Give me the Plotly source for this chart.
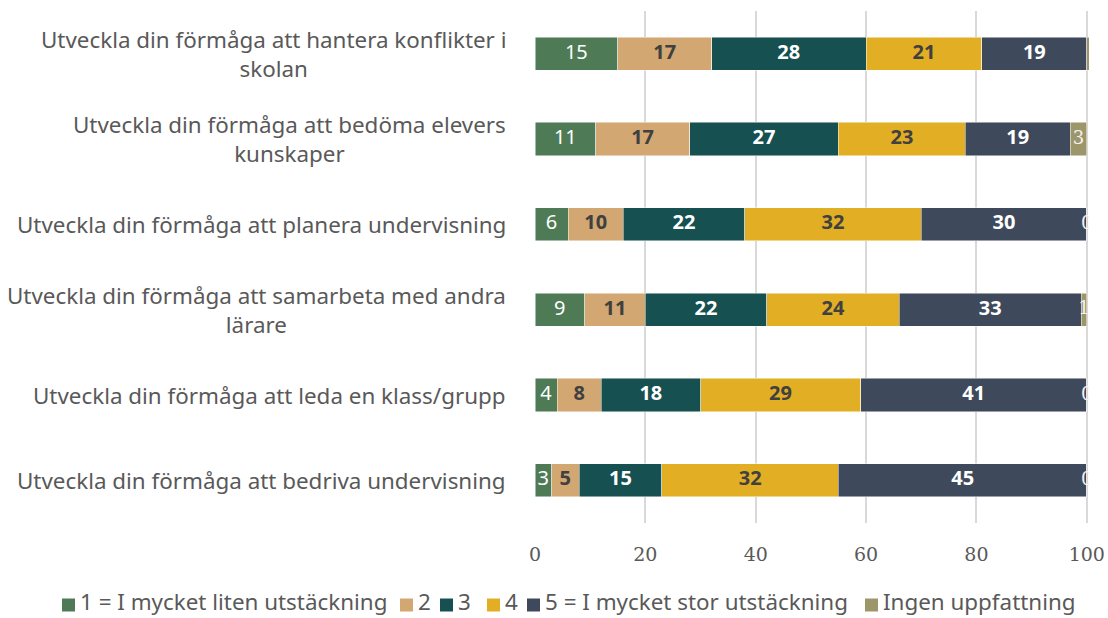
import plotly.graph_objects as go

categories = [
    "Utveckla din förmåga att hantera konflikter i<br>skolan",
    "Utveckla din förmåga att bedöma elevers<br>kunskaper",
    "Utveckla din förmåga att planera undervisning",
    "Utveckla din förmåga att samarbeta med andra<br>lärare",
    "Utveckla din förmåga att leda en klass/grupp",
    "Utveckla din förmåga att bedriva undervisning",
]
series_names = ["1 = I mycket liten utstäckning", "2", "3", "4",
                "5 = I mycket stor utstäckning", "Ingen uppfattning"]
s1 = [15, 11, 6, 9, 4, 3]
s2 = [17, 17, 10, 11, 8, 5]
s3 = [28, 27, 22, 22, 18, 15]
s4 = [21, 23, 32, 24, 29, 32]
s5 = [19, 19, 30, 33, 41, 45]
s6 = [0.4, 3, 0, 1, 0, 0]
s6_labels = ["", "3", "0", "1", "0", "0"]
x_ticks = [0, 20, 40, 60, 80, 100]

series = [s1, s2, s3, s4, s5, s6]
colors = ["#4E7B56", "#D2A772", "#165050", "#E2AE24", "#3E4A5C", "#9E966B"]
label_colors = ["#FFFFFF", "#404040", "#FFFFFF", "#404040", "#FFFFFF", "#F2F2F2"]
label_fonts = ["Noto Sans", "Noto Sans", "Noto Sans", "Noto Sans", "Noto Sans", "DejaVu Serif"]
label_weights = ["normal", "bold", "bold", "bold", "bold", "normal"]
label_sizes = [20, 20, 20, 20, 20, 18]

ykeys = list(range(len(categories)))

W, H = 1108, 618
L, R, T, B = 535, 19, 11, 95
PW, PH = W - L - R, H - T - B


def px_x(px):
    return (px - L) / PW


def px_y(py):
    return (H - B - py) / PH


fig = go.Figure()
for name, vals, col in zip(series_names, series, colors):
    fig.add_trace(go.Bar(
        y=ykeys, x=vals, orientation="h", name=name,
        marker=dict(color=col, line=dict(color="rgba(255,255,255,0.6)", width=0.8)),
        hoverinfo="skip", showlegend=False,
    ))

# data labels at segment midpoints
cum = [0.0] * len(categories)
for i, vals in enumerate(series):
    mids, texts = [], []
    for j, v in enumerate(vals):
        mids.append(cum[j] + v / 2)
        cum[j] += v
        texts.append(s6_labels[j] if i == 5 else str(v))
    fig.add_trace(go.Scatter(
        y=ykeys, x=mids, mode="text", text=texts,
        textposition="middle center",
        textfont=dict(family=label_fonts[i], size=label_sizes[i], color=label_colors[i],
                      weight=label_weights[i]),
        showlegend=False, hoverinfo="skip", cliponaxis=True,
    ))

# category labels (block right-aligned, lines centred)
for k, cat in enumerate(categories):
    fig.add_annotation(
        x=0, xref="paper", xanchor="right", xshift=-27,
        y=k, yref="y", yanchor="middle",
        text=cat, showarrow=False, align="center",
        font=dict(family="Noto Sans", size=22.4, color="#595959"),
    )

# custom legend in one row
sq_left = [62, 400, 440, 487, 527, 865]
leg_y = 605
for name, col, sx in zip(series_names, colors, sq_left):
    fig.add_shape(type="rect", xref="paper", yref="paper",
                  x0=px_x(sx), x1=px_x(sx + 13), y0=px_y(leg_y + 6.5), y1=px_y(leg_y - 6.5),
                  fillcolor=col, line=dict(width=0))
    fig.add_annotation(x=px_x(sx + 17), xref="paper", xanchor="left",
                       y=px_y(H), yref="paper", yanchor="bottom",
                       text=name, showarrow=False, borderpad=0,
                       font=dict(family="Noto Sans", size=22.4, color="#595959"))

fig.update_layout(
    width=W, height=H,
    margin=dict(l=L, r=R, t=T, b=B, autoexpand=False),
    paper_bgcolor="white", plot_bgcolor="white",
    barmode="stack", bargap=0.61,
    xaxis=dict(range=[0, 100.4], tickvals=x_ticks,
               showgrid=True, gridcolor="#D9D9D9", gridwidth=1.5,
               zeroline=False, showline=False, ticks="", automargin=False,
               tickfont=dict(family="DejaVu Serif", size=19, color="#595959"),
               ticklabelstandoff=18, layer="below traces"),
    yaxis=dict(showticklabels=False, showgrid=False, automargin=False,
               zeroline=False, showline=False, range=[5.5, -0.5]),
    showlegend=False,
)

fig.write_html(
    "out.html",
    config={"displayModeBar": False},
    post_script="document.body.style.margin='0px';document.body.style.overflow='hidden';",
)
